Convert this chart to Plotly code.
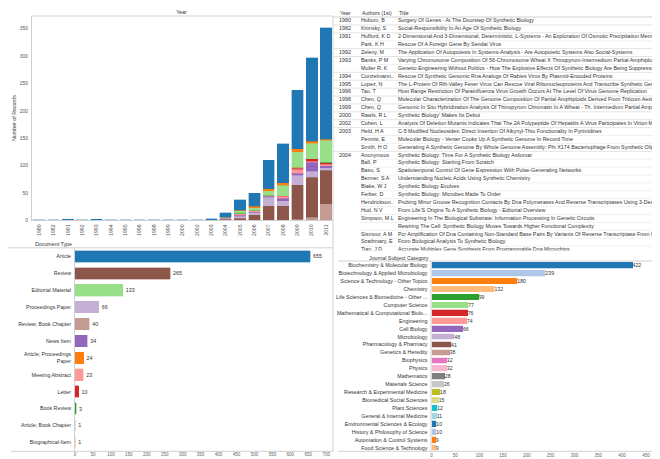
import plotly.graph_objects as go

W, H = 660, 459
FONT = "Arial, Liberation Sans, sans-serif"

# ---------------- data ----------------
years = ["1980", "1982", "1991", "1992", "1993", "1994", "1995", "1996", "1998", "1999",
         "2000", "2002", "2003", "2004", "2005", "2006", "2007", "2008", "2009", "2010", "2011"]

# records per year, by document type (1980 ... 2011)
article_by_year = [1, 1, 2, 1, 2, 1, 1, 1, 1, 1, 1, 1, 3, 8, 20, 23, 52, 71, 107, 153, 204]
review_by_year = [0] * 13 + [2, 4, 10, 26, 26, 63, 73, 61]
editorial_by_year = [0] * 13 + [1, 4, 5, 8, 19, 27, 29, 40]
proceedings_by_year = [0] * 13 + [2, 3, 4, 15, 9, 17, 11, 5]
review_book_by_year = [0] * 13 + [0, 0, 0, 1, 1, 2, 6, 30]
news_by_year = [0] * 13 + [1, 2, 1, 2, 4, 4, 16, 4]
art_proc_by_year = [0] * 13 + [0, 1, 3, 4, 5, 6, 3, 2]
meeting_by_year = [0] * 13 + [0, 3, 3, 2, 4, 7, 2, 2]
letter_by_year = [0] * 13 + [0, 0, 0, 0, 1, 2, 4, 3]
book_review_by_year = [0] * 13 + [0, 1, 0, 0, 0, 1, 0, 1]
art_book_by_year = [0] * 13 + [0, 0, 0, 0, 0, 1, 0, 0]
bio_by_year = [0] * 13 + [0, 0, 0, 0, 0, 1, 0, 0]

doc_types = ["Article", "Review", "Editorial Material", "Proceedings Paper",
             "Review; Book Chapter", "News Item", "Article; Proceedings Paper",
             "Meeting Abstract", "Letter", "Book Review", "Article; Book Chapter",
             "Biographical-Item"]
doc_labels = ["Article", "Review", "Editorial Material", "Proceedings Paper",
              "Review; Book Chapter", "News Item", "Article; Proceedings<br>Paper",
              "Meeting Abstract", "Letter", "Book Review", "Article; Book Chapter",
              "Biographical-Item"]
doc_totals = [655, 265, 133, 66, 40, 34, 24, 23, 10, 3, 1, 1]
doc_colors = ["#1f77b4", "#8c564b", "#98df8a", "#c5b0d5", "#c49c94", "#9467bd",
              "#ff7f0e", "#ff9896", "#d62728", "#2ca02c", "#aec7e8", "#ffbb78"]

journal_categories = [
    "Biochemistry & Molecular Biology", "Biotechnology & Applied Microbiology",
    "Science & Technology - Other Topics", "Chemistry",
    "Life Sciences & Biomedicine - Other ...", "Computer Science",
    "Mathematical & Computational Biolo...", "Engineering", "Cell Biology",
    "Microbiology", "Pharmacology & Pharmacy", "Genetics & Heredity", "Biophysics",
    "Physics", "Mathematics", "Materials Science", "Research & Experimental Medicine",
    "Biomedical Social Sciences", "Plant Sciences", "General & Internal Medicine",
    "Environmental Sciences & Ecology", "History & Philosophy of Science",
    "Automation & Control Systems", "Food Science & Technology"]
journal_counts = [422, 239, 180, 132, 99, 77, 76, 74, 66, 48, 41, 38, 32, 32, 28, 26,
                  18, 15, 12, 11, 10, 10, 9, 9]
journal_colors = ["#1f77b4", "#aec7e8", "#ff7f0e", "#ffbb78", "#2ca02c", "#98df8a",
                  "#d62728", "#ff9896", "#9467bd", "#c5b0d5", "#8c564b", "#c49c94",
                  "#e377c2", "#f7b6d2", "#7f7f7f", "#c7c7c7", "#bcbd22", "#dbdb8d",
                  "#17becf", "#9edae5", "#1f77b4", "#aec7e8", "#ff7f0e", "#ffbb78"]

table_years = ["1980", "1982", "1991", "", "1992", "1993", "", "1994", "1995", "1996",
               "1998", "1999", "2000", "2002", "2003", "", "", "2004", "", "", "", "",
               "", "", "", "", "", "", "", ""]
table_authors = ["Hobom, B", "Krimsky, S", "Hufford, K D", "Park, K H", "Zeleny, M",
                 "Banks, P M", "Muller R, K", "Conzelmann..", "Lopez, N", "Tao, T",
                 "Chen, Q", "Chen, Q", "Rawls, R L", "Cohen, L", "Held, H A",
                 "Pennisi, E", "Smith, H O", "Anonymous", "Ball, P", "Basu, S",
                 "Benner, S A", "Blake, W J", "Ferber, D", "Hendrickson..", "Hud, N V",
                 "Simpson, M L", "", "Sismour, A M", "Szathmary, E", "Tian, J D"]
table_titles = [
    "Surgery Of Genes - At The Doorstep Of Synthetic Biology",
    "Social-Responsibility In An Age Of Synthetic Biology",
    "2-Dimensional And 3-Dimensional, Deterministic, L-Systems - An Exploration Of Osmotic Precipitation Membranes",
    "Rescue Of A Foreign Gene By Sendai Virus",
    "The Application Of Autopoiesis In Systems-Analysis - Are Autopoietic Systems Also Social-Systems",
    "Varying Chromosome Composition Of 56-Chromosome Wheat X Thinopyrum-Intermedium Partial Amphiploids",
    "Genetic-Engineering Without Politics - How The Explosive Effects Of Synthetic Biology Are Being Suppressed",
    "Rescue Of Synthetic Genomic Rna Analogs Of Rabies Virus By Plasmid-Encoded Proteins",
    "The L-Protein Of Rift-Valley Fever Virus Can Rescue Viral Ribonucleoproteins And Transcribe Synthetic Genome-Like Rna",
    "Host Range Restriction Of Parainfluenza Virus Growth Occurs At The Level Of Virus Genome Replication",
    "Molecular Characterization Of The Genome Composition Of Partial Amphiploids Derived From Triticum Aestivum",
    "Genomic In Situ Hybridization Analysis Of Thinopyrum Chromatin In A Wheat - Th. Intermedium Partial Amphiploid",
    "Synthetic Biology' Makes Its Debut",
    "Analysis Of Deletion Mutants Indicates That The 2A Polypeptide Of Hepatitis A Virus Participates In Virion Morphogenesis",
    "C-5 Modified Nucleosides: Direct Insertion Of Alkynyl-Thio Functionality In Pyrimidines",
    "Molecular Biology - Venter Cooks Up A Synthetic Genome In Record Time",
    "Generating A Synthetic Genome By Whole Genome Assembly: Phi X174 Bacteriophage From Synthetic Oligonucleotides",
    "Synthetic Biology: Time For A Synthetic Biology Asilomar",
    "Synthetic Biology: Starting From Scratch",
    "Spatiotemporal Control Of Gene Expression With Pulse-Generating Networks",
    "Understanding Nucleic Acids Using Synthetic Chemistry",
    "Synthetic Biology Evolves",
    "Synthetic Biology: Microbes Made To Order",
    "Probing Minor Groove Recognition Contacts By Dna Polymerases And Reverse Transcriptases Using 3-Deazaadenosine",
    "From Life'S Origins To A Synthetic Biology - Editorial Overview",
    "Engineering In The Biological Substrate: Information Processing In Genetic Circuits",
    "Rewiring The Cell: Synthetic Biology Moves Towards Higher Functional Complexity",
    "Pcr Amplification Of Dna Containing Non-Standard Base Pairs By Variants Of Reverse Transcriptase From Hiv-1",
    "From Biological Analysis To Synthetic Biology",
    "Accurate Multiplex Gene Synthesis From Programmable Dna Microchips"]
table_headers = ["Year", "Authors (1st)", "Title"]

# ---------------- helpers ----------------
def fx(p):
    return p / W


def fy(p):
    return 1 - p / H


def rgba(hexc, a):
    h = hexc.lstrip("#")
    return "rgba(%d,%d,%d,%.2f)" % (int(h[0:2], 16), int(h[2:4], 16), int(h[4:6], 16), a)


year_counts = {
    "Article": article_by_year, "Review": review_by_year,
    "Editorial Material": editorial_by_year, "Proceedings Paper": proceedings_by_year,
    "Review; Book Chapter": review_book_by_year, "News Item": news_by_year,
    "Article; Proceedings Paper": art_proc_by_year, "Meeting Abstract": meeting_by_year,
    "Letter": letter_by_year, "Book Review": book_review_by_year,
    "Article; Book Chapter": art_book_by_year, "Biographical-Item": bio_by_year,
}
color_of = dict(zip(doc_types, doc_colors))
stack_order = ["Review; Book Chapter", "Review", "Proceedings Paper", "News Item",
               "Meeting Abstract", "Letter", "Article; Book Chapter", "Biographical-Item",
               "Book Review", "Editorial Material", "Article; Proceedings Paper", "Article"]

fig = go.Figure()

# ---- stacked bars by year ----
for name in stack_order:
    c = color_of[name]
    fig.add_trace(go.Bar(
        x=years, y=year_counts[name], name=name, width=0.8,
        marker=dict(color=c, line=dict(color=rgba(c, 0.45), width=0.8)),
        xaxis="x", yaxis="y", hoverinfo="skip", showlegend=False))

# ---- document type bars ----
fig.add_trace(go.Bar(
    x=doc_totals, y=doc_types, orientation="h", width=0.69,
    marker=dict(color=doc_colors, line=dict(color=[rgba(c, 0.45) for c in doc_colors], width=0.8)),
    text=[str(v) for v in doc_totals], textposition="outside", constraintext="none",
    textfont=dict(size=5.4, color="#333", family=FONT), cliponaxis=False,
    xaxis="x2", yaxis="y2", hoverinfo="skip", showlegend=False))

# ---- journal subject bars ----
fig.add_trace(go.Bar(
    x=journal_counts, y=journal_categories, orientation="h", width=0.72,
    marker=dict(color=journal_colors, line=dict(color=[rgba(c, 0.45) for c in journal_colors], width=0.6)),
    text=[str(v) for v in journal_counts], textposition="outside", constraintext="none",
    textfont=dict(size=5.2, color="#333", family=FONT), cliponaxis=False,
    xaxis="x3", yaxis="y3", hoverinfo="skip", showlegend=False))

# ---- table (text clipped by its subplot) ----
rows = list(range(len(table_titles)))
col_offsets = [6, 28, 65]
for off, col in zip(col_offsets, [table_years, table_authors, table_titles]):
    fig.add_trace(go.Scatter(
        x=[off] * len(col), y=rows, text=col, mode="text", textposition="middle right",
        textfont=dict(size=5.35, color="#333", family=FONT), cliponaxis=True,
        xaxis="x4", yaxis="y4", hoverinfo="skip", showlegend=False))

TICKC = "#666"
LINEC = "#d0d0d0"

layout = dict(
    width=W, height=H, margin=dict(l=0, r=0, t=0, b=0), template="none",
    paper_bgcolor="white", plot_bgcolor="white", barmode="stack",
    font=dict(family=FONT, color="#333"), showlegend=False,
    xaxis=dict(domain=[fx(24), fx(325.3)], type="category", categoryorder="array",
               categoryarray=years, dtick=1, tickangle=-90,
               tickfont=dict(size=5.2, color="#555"), showline=True, linecolor=LINEC,
               showgrid=False, zeroline=False, ticks="", anchor="y", automargin=False,
               ticklabelstandoff=1),
    yaxis=dict(domain=[fy(212.3), fy(8)], range=[0, 373.2],
               tickvals=[0, 50, 100, 150, 200, 250, 300, 350],
               tickfont=dict(size=5.0, color="#555"), showline=True, linecolor=LINEC,
               showgrid=False, zeroline=False, ticks="", anchor="x", automargin=False,
               ticklabelstandoff=2),
    xaxis2=dict(domain=[fx(67), fx(325.4)], range=[0, 720],
                tickvals=list(range(0, 701, 50)), tickfont=dict(size=4.5, color=TICKC),
                showline=False, showgrid=False, zeroline=False, ticks="", anchor="y2",
                automargin=False),
    yaxis2=dict(domain=[fy(442.8), fy(240)], type="category", categoryorder="array",
                categoryarray=doc_types, range=[11.5, -0.5], dtick=1,
                tickmode="array", tickvals=doc_types, ticktext=doc_labels,
                tickfont=dict(size=5.3, color="#333"), showline=False, showgrid=False,
                zeroline=False, ticks="", anchor="x2", automargin=False,
                ticklabelstandoff=3),
    xaxis3=dict(domain=[fx(423.5), fx(646)], range=[0, 467],
                tickvals=list(range(0, 451, 50)), tickfont=dict(size=4.5, color=TICKC),
                showline=False, showgrid=False, zeroline=False, ticks="", anchor="y3",
                automargin=False),
    yaxis3=dict(domain=[fy(443.6), fy(253.3)], type="category", categoryorder="array",
                categoryarray=journal_categories, range=[23.5, -0.5], dtick=1,
                tickfont=dict(size=5.35, color="#333"), showline=False, showgrid=False,
                zeroline=False, ticks="", anchor="x3", automargin=False,
                ticklabelstandoff=3),
    xaxis4=dict(domain=[fx(325), fx(646)], range=[0, 321], visible=False, anchor="y4"),
    yaxis4=dict(domain=[fy(242.5), fy(8.5)], range=[29.06, -0.57], visible=False, anchor="x4"),
)
fig.update_layout(**layout)

# ---------------- annotations ----------------
ann = []


def add_text(x, y, text, size, color="#333", xanchor="center", angle=0):
    ann.append(dict(x=fx(x), y=fy(y), xref="paper", yref="paper", text=text,
                    showarrow=False, xanchor=xanchor, yanchor="middle", textangle=angle,
                    font=dict(size=size, color=color, family=FONT), borderpad=0))


add_text(174, 4, "Year", 5.4)
add_text(6, 110, "Number of Records", 5.3, "#444", angle=-90)
add_text(65, 235.7, "Document Type", 5.3, "#333", xanchor="right")
add_text(421.5, 249.5, "Journal Subject Category", 5.3, "#333", xanchor="right")
add_text(196, 454, "Number of Records", 4.8, "#555")
add_text(534.5, 454, "Number of Records", 4.8, "#555")
for off, htxt in zip(col_offsets, table_headers):
    add_text(325 + off, 5, htxt, 5.2, "#333", xanchor="left")
fig.update_layout(annotations=ann)

# ---------------- lines / frames ----------------
shapes = []


def hline(y, x0, x1, color=LINEC, w=1):
    shapes.append(dict(type="line", xref="paper", yref="paper", x0=fx(x0), x1=fx(x1),
                       y0=fy(y), y1=fy(y), line=dict(color=color, width=w)))


def vline(x, y0, y1, color=LINEC, w=1):
    shapes.append(dict(type="line", xref="paper", yref="paper", x0=fx(x), x1=fx(x),
                       y0=fy(y0), y1=fy(y1), line=dict(color=color, width=w)))


def rect(x0, y0, x1, y1, fill, line):
    shapes.append(dict(type="rect", xref="paper", yref="paper", x0=fx(x0), x1=fx(x1),
                       y0=fy(y0), y1=fy(y1), fillcolor=fill, line=dict(color=line, width=1)))


hline(8, 24, 325)               # top frame of year chart
hline(239.8, 0, 325)            # separator above document type
vline(325, 8, 443.5)            # middle divider
hline(443.3, 3, 325)            # doc axis line
vline(66.5, 240, 443.3)         # doc y axis line
hline(253, 330, 646)            # journal header divider
hline(443.3, 330, 646)          # journal axis line
vline(423, 253, 443.3)          # journal y axis line
hline(9, 325, 646)              # table header divider
vline(646.5, 8, 242.5, "#dcdcdc")
rect(647.5, 8.5, 655, 16, "#d9d9d9", "#d0d0d0")   # table scroll thumb
rect(646, 253, 655, 459, "rgba(0,0,0,0)", "#e2e2e2")
rect(646, 253, 655, 313, "#ececec", "#e2e2e2")    # journal scroll thumb

# year-group dividers in the table
for i, yv in enumerate(table_years):
    if yv and i > 0:
        shapes.append(dict(type="line", xref="x4 domain", yref="y4", x0=0, x1=1,
                           y0=i - 0.5, y1=i - 0.5, line=dict(color="#e3e3e3", width=1)))
for i, yv in enumerate(table_years):
    if not yv:
        shapes.append(dict(type="line", xref="x4 domain", yref="y4", x0=0.085, x1=1,
                           y0=i - 0.5, y1=i - 0.5, line=dict(color="#f0f0f0", width=1)))

fig.update_layout(shapes=shapes)

fig.write_html("out.html", config={"displayModeBar": False})
